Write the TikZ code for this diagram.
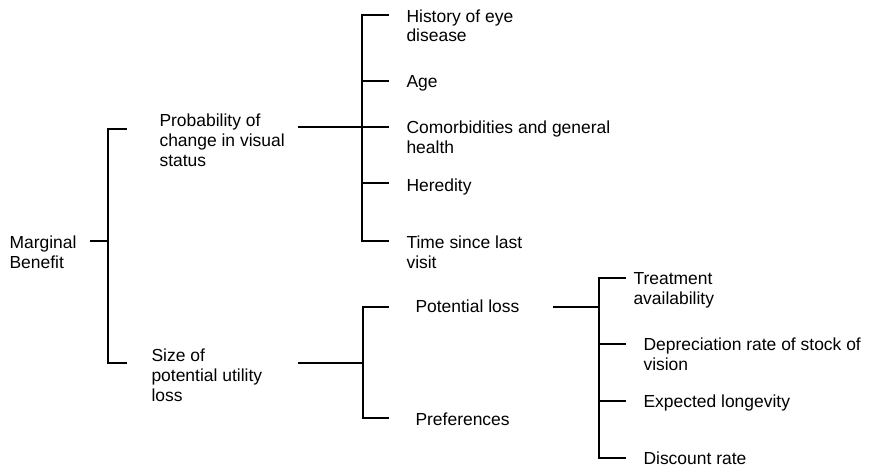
\documentclass[tikz,border=0pt]{standalone}
\usepackage{fontspec}
\setmainfont{Liberation Sans}
\usepackage{tikz}

\begin{document}
\begin{tikzpicture}[x=0.3mm, y=-0.3mm, line width=0.9pt,
                    every node/.style={anchor=base west, align=left, inner sep=0pt,
                                       font=\fontsize{14.9}{17.07}\selectfont}]
                    \useasboundingbox (0,0) rectangle (871,468);

                    % Nodes (placed at the baseline of their last line)
                    \node (mb)   at (9,268)   {Marginal\\Benefit};
                    \node (prob) at (159,166) {Probability of\\change in visual\\status};
                    \node (size) at (151,401) {Size of\\potential utility\\loss};

                    \node (hist) at (406,42)  {History of eye\\disease};
                    \node (age)  at (406,87)  {Age};
                    \node (com)  at (406,153) {Comorbidities and general\\health};
                    \node (her)  at (406,191) {Heredity};
                    \node (time) at (406,268) {Time since last\\visit};

                    \node (pot)  at (415,312) {Potential loss};
                    \node (pref) at (415,425) {Preferences};

                    \node (trt)  at (633,304) {Treatment\\availability};
                    \node (dep)  at (643,370) {Depreciation rate of stock of\\vision};
                    \node (lon)  at (643,407) {Expected longevity};
                    \node (disc) at (643,464) {Discount rate};

                    % Bracket joints
                    \coordinate (j0) at (108,241);
                    \coordinate (j1) at (362,127);
                    \coordinate (j2) at (363,363);
                    \coordinate (j3) at (599,307);

                    % Marginal Benefit
                    \draw (90,241) -- (j0);
                    \draw (127,129) -- (108,129) -- (108,363) -- (127,363);

                    % Probability of change in visual status
                    \draw (298,127) -- (j1);
                    \draw (389,15) -- (362,15) -- (362,241) -- (389,241);
                    \foreach \y in {81,127,183} \draw (362,\y) -- (389,\y);

                    % Size of potential utility loss
                    \draw (298,363) -- (j2);
                    \draw (389,307) -- (363,307) -- (363,418) -- (389,418);

                    % Potential loss
                    \draw (553,307) -- (j3);
                    \draw (626,278) -- (599,278) -- (599,458) -- (626,458);
                    \foreach \y in {344,401} \draw (599,\y) -- (626,\y);
                \end{tikzpicture}
\end{document}
